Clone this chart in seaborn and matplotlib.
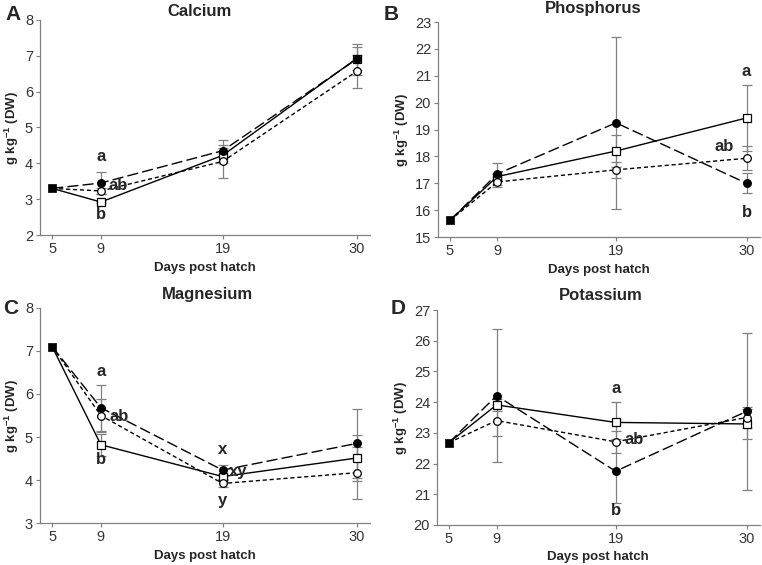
import matplotlib
matplotlib.use("Agg")
import matplotlib.pyplot as plt
import seaborn as sns
import pandas as pd

sns.set_theme(style="white")
plt.rcParams['font.family'] = ['Liberation Sans', 'DejaVu Sans']
plt.rcParams['mathtext.fontset'] = 'custom'
plt.rcParams['mathtext.rm'] = 'Liberation Sans'
plt.rcParams['mathtext.bf'] = 'Liberation Sans:bold'

days = [5, 9, 19, 30]
xticks = [5, 9, 19, 30]

# series: sq = open square (solid), fc = filled circle (long dash), oc = open circle (short dash)
ca_sq = [3.3, 2.92, 4.22, 6.92]
ca_fc = [3.3, 3.45, 4.35, 6.90]
ca_oc = [3.3, 3.23, 4.05, 6.56]
ca_sq_err = [0.03, 0.20, 0.33]
ca_fc_err = [0.32, 0.30, 0.43]
ca_oc_err = [0.08, 0.47, 0.45]

p_sq = [15.62, 17.25, 18.20, 19.43]
p_fc = [15.62, 17.35, 19.25, 17.00]
p_oc = [15.62, 17.05, 17.50, 17.93]
p_sq_err = [0.10, 0.60, 1.23]
p_fc_err = [0.42, 3.20, 0.37]
p_oc_err = [0.20, 0.30, 0.45]

mg_sq = [7.1, 4.82, 4.08, 4.51]
mg_fc = [7.1, 5.68, 4.23, 4.85]
mg_oc = [7.1, 5.50, 3.92, 4.17]
mg_sq_err = [0.26, 0.05, 0.53]
mg_fc_err = [0.53, 0.12, 0.80]
mg_oc_err = [0.38, 0.08, 0.60]

k_sq = [22.68, 23.91, 23.34, 23.29]
k_fc = [22.68, 24.21, 21.75, 23.70]
k_oc = [22.68, 23.40, 22.71, 23.50]
k_sq_err = [0.20, 0.65, 0.50]
k_fc_err = [2.16, 1.05, 2.55]
k_oc_err = [0.50, 0.35, 0.35]

W, H = 762, 565

panels = [
    dict(letter="A", title="Calcium", sq=ca_sq, fc=ca_fc, oc=ca_oc,
         sqe=ca_sq_err, fce=ca_fc_err, oce=ca_oc_err, ylim=(2, 8), yticks=[2, 3, 4, 5, 6, 7, 8],
         notes=[("a", 9, 4.18), ("ab", 10.4, 3.37), ("b", 9, 2.56)],
         pos=[0.0525, 0.584, 0.433, 0.381], title_px=(199, 12), letter_px=(13, 15)),
    dict(letter="B", title="Phosphorus", sq=p_sq, fc=p_fc, oc=p_oc,
         sqe=p_sq_err, fce=p_fc_err, oce=p_oc_err, ylim=(15, 23), yticks=list(range(15, 24)),
         notes=[("a", 30, 21.15), ("ab", 28.1, 18.36), ("b", 30, 15.9)],
         pos=[0.5748, 0.5805, 0.422, 0.3805], title_px=(593, 9), letter_px=(391, 14)),
    dict(letter="C", title="Magnesium", sq=mg_sq, fc=mg_fc, oc=mg_oc,
         sqe=mg_sq_err, fce=mg_fc_err, oce=mg_oc_err, ylim=(3, 8), yticks=[3, 4, 5, 6, 7, 8],
         notes=[("a", 9, 6.52), ("ab", 10.5, 5.47), ("b", 9, 4.47),
                ("x", 19, 4.7), ("xy", 20.3, 4.2), ("y", 19, 3.53)],
         pos=[0.0525, 0.0743, 0.433, 0.3806], title_px=(207, 295), letter_px=(11, 309)),
    dict(letter="D", title="Potassium", sq=k_sq, fc=k_fc, oc=k_oc,
         sqe=k_sq_err, fce=k_fc_err, oce=k_oc_err, ylim=(20, 27), yticks=list(range(20, 28)),
         notes=[("a", 19, 24.45), ("ab", 20.6, 22.77), ("b", 19, 20.46)],
         pos=[0.5735, 0.0708, 0.4235, 0.3805], title_px=(601, 295), letter_px=(398, 308)),
]

fig = plt.figure(figsize=(7.62, 5.65), dpi=100)
grey = "#808080"

for p in panels:
    ax = fig.add_axes(p["pos"])
    styles = [
        (p["sq"], p["sqe"], "s", "white", (0, ()), ),
        (p["oc"], p["oce"], "o", "white", (0, (3, 2))),
        (p["fc"], p["fce"], "o", "black", (0, (8, 3))),
    ]
    for vals, errs, mk, fcol, ls in styles:
        ax.errorbar(days[1:], vals[1:], yerr=errs, fmt="none", ecolor=grey,
                    elinewidth=0.9, capsize=3.5, capthick=0.9, zorder=1)
    for z, (vals, errs, mk, fcol, ls) in enumerate(styles):
        df = pd.DataFrame({"day": days, "val": vals})
        sns.lineplot(data=df, x="day", y="val", ax=ax, color="black", lw=1,
                     linestyle=ls, marker=mk, markevery=[1, 2, 3], markersize=5.5,
                     markerfacecolor=fcol, markeredgecolor="black", markeredgewidth=0.9,
                     zorder=3 + z)
    start = pd.DataFrame({"day": [days[0]], "val": [p["sq"][0]]})
    sns.scatterplot(data=start, x="day", y="val", ax=ax, marker="s", s=40,
                    color="black", edgecolor="black", zorder=10)

    ax.set_xlim(4.0, 31.1)
    ax.set_ylim(*p["ylim"])
    ax.set_xticks(xticks)
    ax.set_yticks(p["yticks"])
    ax.tick_params(axis="both", labelsize=10.5, labelcolor="#333333", length=3, width=0.8,
                   direction="out", pad=2, left=True, bottom=True, color=grey)
    for s in ["top", "right"]:
        ax.spines[s].set_visible(False)
    for s in ["left", "bottom"]:
        ax.spines[s].set_color(grey)
        ax.spines[s].set_linewidth(0.9)
    ax.set_xlabel("Days post hatch", fontsize=9.5, fontweight="bold", labelpad=4)
    ax.set_ylabel(r"g kg$^{\mathbf{-1}}$ (DW)", fontsize=9.5, fontweight="bold", labelpad=3)
    tx, ty = p["title_px"]
    fig.text(tx / W, 1 - ty / H, p["title"], fontsize=12, fontweight="bold",
             ha="center", va="center")
    lx, ly = p["letter_px"]
    fig.text(lx / W, 1 - ly / H, p["letter"], fontsize=15, fontweight="bold",
             ha="center", va="center")
    for txt, x, y in p["notes"]:
        ax.text(x, y, txt, fontsize=12, fontweight="bold", ha="center", va="center",
                zorder=12)

fig.savefig("out.png", dpi=100)
